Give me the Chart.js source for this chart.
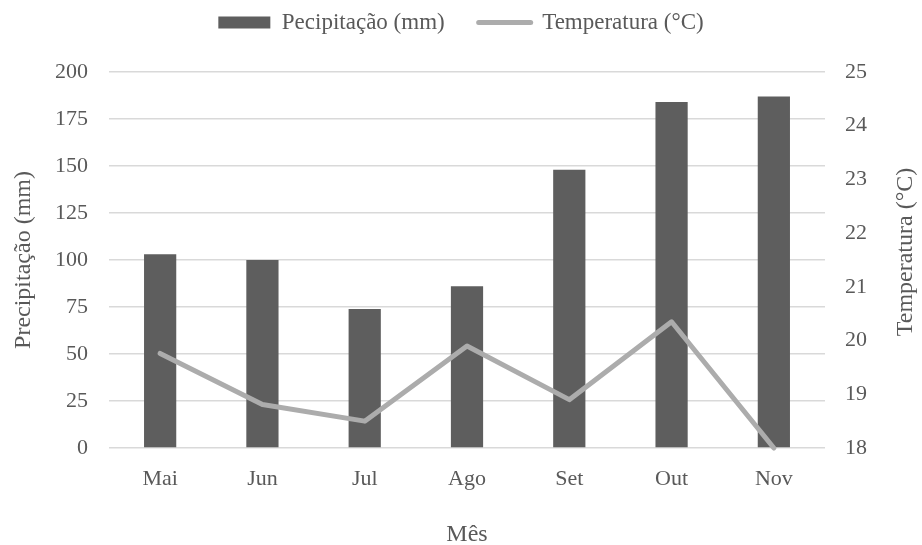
<!DOCTYPE html>
<html>
<head>
<meta charset="utf-8">
<script src="https://cdn.jsdelivr.net/npm/chart.js@4/dist/chart.umd.min.js"></script>
<style>
  html, body { margin: 0; padding: 0; background: #ffffff; }
  #wrap { width: 922px; height: 545px; position: relative; }
</style>
</head>
<body>
<div id="wrap"><canvas id="c" width="922" height="545"></canvas></div>
<script>
const months = ['Mai', 'Jun', 'Jul', 'Ago', 'Set', 'Out', 'Nov'];
const precipitation = [103, 100, 74, 86, 148, 184, 187];
const temperature = [19.76, 18.81, 18.50, 19.90, 18.90, 20.35, 18.00];
const precipLegend = 'Pecipitação (mm)';
const tempLegend = 'Temperatura (°C)';
const leftTitle = 'Precipitação (mm)';
const rightTitle = 'Temperatura (°C)';
const xTitle = 'Mês';

const FONT = '"Liberation Serif", "Times New Roman", serif';
const TEXT = '#595959';
const BAR = '#5e5e5e';
const LINE = '#acacac';
const GRID = '#d9d9d9';

const rightTitlePlugin = {
  id: 'rightTitle',
  afterDraw(chart) {
    const s = chart.scales.y1;
    const ctx = chart.ctx;
    ctx.save();
    ctx.translate(s.right - 16, (chart.chartArea.top + chart.chartArea.bottom) / 2 - 8);
    ctx.rotate(-Math.PI / 2);
    ctx.font = '24px ' + FONT;
    ctx.fillStyle = TEXT;
    ctx.textAlign = 'center';
    ctx.textBaseline = 'middle';
    ctx.fillText(rightTitle, 0, 0);
    ctx.restore();
  }
};

new Chart(document.getElementById('c'), {
  data: {
    labels: months,
    datasets: [
      {
        type: 'bar',
        label: precipLegend,
        data: precipitation,
        backgroundColor: BAR,
        borderWidth: 0,
        yAxisID: 'y',
        xAxisID: 'x',
        barPercentage: 0.315,
        categoryPercentage: 1.0,
        order: 2
      },
      {
        type: 'line',
        label: tempLegend,
        data: temperature,
        borderColor: LINE,
        backgroundColor: LINE,
        borderWidth: 5,
        borderCapStyle: 'round',
        borderJoinStyle: 'round',
        pointRadius: 0,
        tension: 0,
        clip: false,
        yAxisID: 'y1',
        xAxisID: 'x',
        order: 1
      }
    ]
  },
  options: {
    responsive: false,
    animation: false,
    maintainAspectRatio: false,
    layout: { padding: 0 },
    plugins: {
      tooltip: { enabled: false },
      legend: {
        position: 'top',
        align: 'center',
        labels: {
          color: TEXT,
          font: { family: FONT, size: 23 },
          usePointStyle: true,
          pointStyleWidth: 52,
          boxHeight: 12,
          padding: 11,
          generateLabels(chart) {
            return [
              {
                text: precipLegend + '    ',
                fillStyle: BAR,
                strokeStyle: BAR,
                lineWidth: 0,
                pointStyle: 'rect',
                datasetIndex: 0,
                fontColor: TEXT
              },
              {
                text: tempLegend,
                fillStyle: LINE,
                strokeStyle: LINE,
                lineWidth: 5,
                lineCap: 'round',
                pointStyle: 'line',
                datasetIndex: 1,
                fontColor: TEXT
              }
            ];
          }
        }
      }
    },
    scales: {
      x: {
        type: 'category',
        position: 'bottom',
        grid: { display: false },
        border: { display: false },
        ticks: { color: TEXT, font: { family: FONT, size: 22 }, padding: 10 },
        title: { display: true, text: xTitle, color: TEXT, font: { family: FONT, size: 24 }, padding: { top: 0, bottom: -4 } },
        afterFit(s) { s.height = 97; }
      },
      xTop: {
        type: 'category',
        position: 'top',
        grid: { display: false },
        border: { display: false },
        ticks: { display: false },
        afterFit(s) { s.height = 28; }
      },
      y: {
        type: 'linear',
        position: 'left',
        min: 0,
        max: 200,
        ticks: { stepSize: 25, color: TEXT, font: { family: FONT, size: 22 }, padding: 21 },
        grid: { color: GRID, lineWidth: 1.5, drawTicks: false },
        border: { display: false },
        title: { display: true, text: leftTitle, color: TEXT, font: { family: FONT, size: 24 }, padding: { top: 9, bottom: 0 } },
        afterFit(s) { s.width = 109; }
      },
      y1: {
        type: 'linear',
        position: 'right',
        min: 18,
        max: 25,
        ticks: { stepSize: 1, color: TEXT, font: { family: FONT, size: 22 }, padding: 20 },
        grid: { display: false, drawTicks: false },
        border: { display: false },
        afterFit(s) { s.width = 97; }
      }
    }
  },
  plugins: [rightTitlePlugin]
});
</script>
</body>
</html>
